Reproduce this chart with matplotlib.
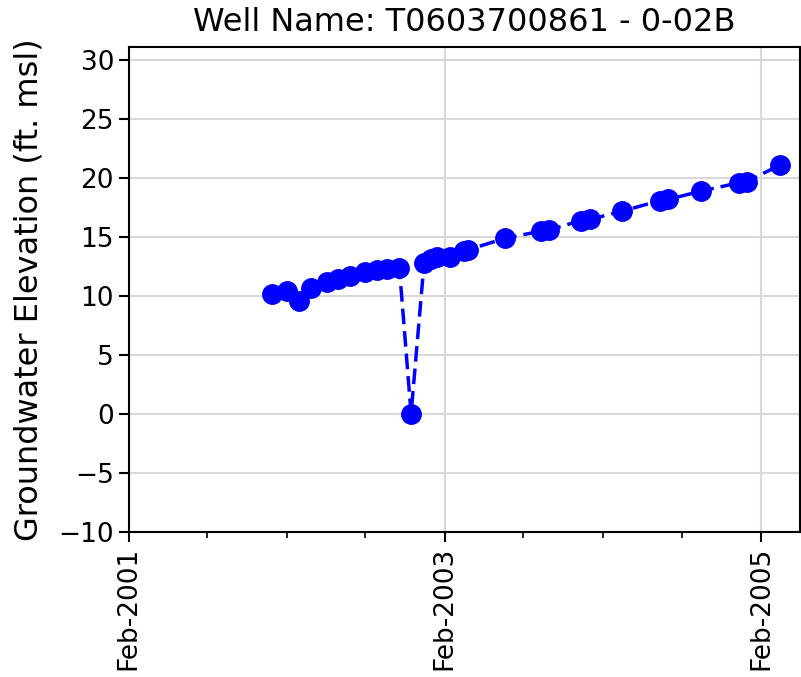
import matplotlib
matplotlib.use("Agg")
import matplotlib.pyplot as plt
import matplotlib.dates as mdates
import pandas as pd

# well readings
dates = ["2001-12-28", "2002-02-01", "2002-03-01", "2002-03-28", "2002-05-04",
         "2002-05-31", "2002-06-27", "2002-08-01", "2002-08-29", "2002-09-20",
         "2002-10-19", "2002-11-15", "2002-12-15", "2002-12-31", "2003-01-14",
         "2003-02-13", "2003-03-17", "2003-03-26", "2003-06-20", "2003-09-11",
         "2003-09-30", "2003-12-12", "2004-01-02", "2004-03-17", "2004-06-12",
         "2004-07-01", "2004-09-15", "2004-12-10", "2004-12-29", "2005-03-15"]
elev = [10.2, 10.4, 9.6, 10.7, 11.2, 11.4, 11.7, 12.0, 12.2, 12.3,
        12.4, 0.0, 12.8, 13.1, 13.3, 13.3, 13.8, 13.9, 14.9, 15.5,
        15.6, 16.4, 16.5, 17.2, 18.1, 18.2, 18.9, 19.6, 19.7, 21.1]

major_ticks = ["2001-02-01", "2003-02-01", "2005-02-01"]
minor_ticks = ["2001-08-01", "2002-02-01", "2002-08-01", "2003-08-01",
               "2004-02-01", "2004-08-01"]
well_name = "T0603700861 - 0-02B"

x = pd.to_datetime(dates)

fig = plt.figure(figsize=(8.01, 6.77), dpi=100)
ax = fig.add_axes([128.7 / 801, 1 - 531.7 / 677, (800 - 128.7) / 801, (531.7 - 47.3) / 677])

ax.plot(x, elev, linestyle="--", color="blue", linewidth=2.5, marker="o", markersize=14,
        dashes=(4.5, 2))

ax.set_xlim(pd.Timestamp("2001-02-01"), pd.Timestamp("2005-05-01"))
ax.set_ylim(-10, max(elev) + 10)

ax.set_xticks(pd.to_datetime(major_ticks))
ax.set_xticks(pd.to_datetime(minor_ticks), minor=True)
ax.xaxis.set_major_formatter(mdates.DateFormatter("%b-%Y"))
ax.set_yticks(range(-10, 31, 5))

ax.grid(True, which="major", color="#d8d8d8", linewidth=1.5)
ax.set_axisbelow(True)

ax.tick_params(axis="both", which="major", labelsize=19, length=7, width=1.5)
ax.tick_params(axis="x", which="major", labelrotation=90)
ax.tick_params(axis="x", which="minor", length=4, width=1.2)
for s in ax.spines.values():
    s.set_linewidth(1.5)

ax.set_ylabel("Groundwater Elevation (ft. msl)", fontsize=23, labelpad=10)
ax.set_title("Well Name: " + well_name, fontsize=23, pad=12)

fig.savefig("out.png", dpi=100)
